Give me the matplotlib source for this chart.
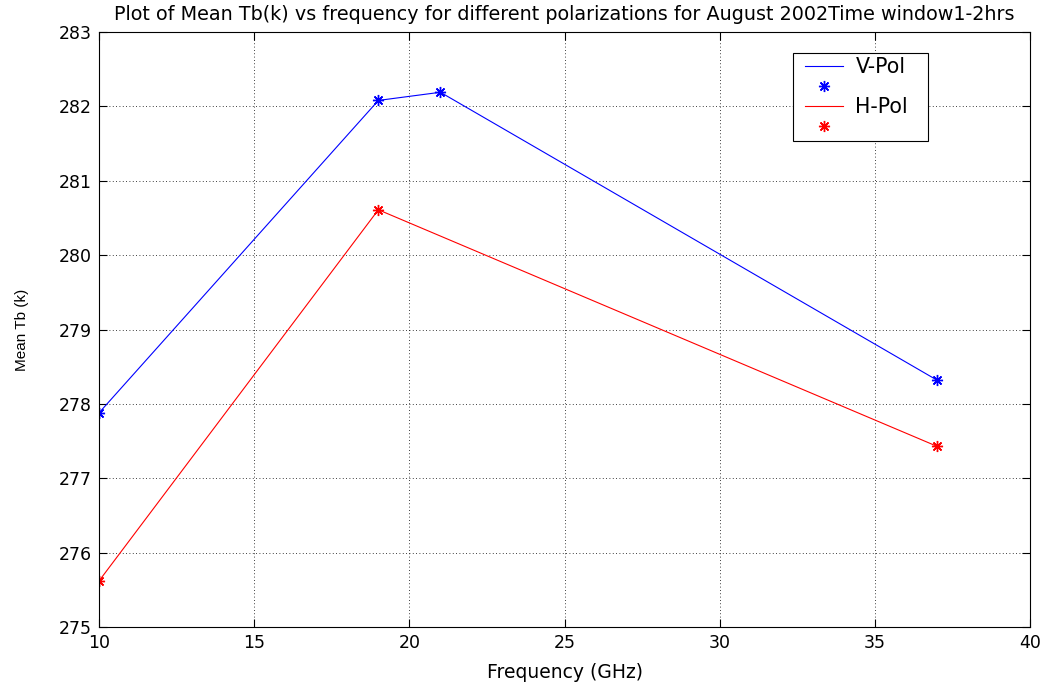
import matplotlib
matplotlib.use("Agg")
import matplotlib.pyplot as plt
from matplotlib.patches import Rectangle
from matplotlib.transforms import IdentityTransform

plt.rcParams['font.family'] = ['DejaVu Sans']

freq_v = [10, 19, 21, 37]
tb_v = [277.88, 282.08, 282.19, 278.32]
freq_h = [10, 19, 37]
tb_h = [275.62, 280.61, 277.43]

# MATLAB-style asterisk: plus and cross overlaid (8 arms)
star = (8, 2, 0)

fig = plt.figure(figsize=(10.47, 6.87), dpi=100)
ax = fig.add_axes([0.0946, 0.0873, 0.8892, 0.8661])

ax.plot(freq_v, tb_v, color='#0000ff', lw=0.8, label='V-Pol')
ax.plot(freq_v, tb_v, ls='none', marker=star, color='#0000ff', mec='#0000ff',
        ms=8, mew=1.0, label=' ')
ax.plot(freq_h, tb_h, color='#ff0000', lw=0.8, label='H-Pol')
ax.plot(freq_h, tb_h, ls='none', marker=star, color='#ff0000', mec='#ff0000',
        ms=8, mew=1.0, label=' ')

ax.set_xlim(10, 40)
ax.set_ylim(275, 283)
ax.set_xticks(range(10, 41, 5))
ax.set_yticks(range(275, 284))
ax.grid(True, color='black', ls=(0, (1, 3)), lw=0.6)
ax.tick_params(direction='in', length=6, labelsize=12.5, top=True, right=True, pad=5)
for s in ax.spines.values():
    s.set_linewidth(0.8)

ax.set_xlabel('Frequency (GHz)', fontsize=13.5, labelpad=8)
ax.set_ylabel('Mean Tb (k)', fontsize=11, family='Liberation Sans')
ax.yaxis.set_label_coords(-0.075, 0.5)
ax.set_title('Plot of Mean Tb(k) vs frequency for different polarizations for August 2002Time window1-2hrs',
             fontsize=13.75, pad=9)

# Legend entries without their own frame; a box with MATLAB-like padding goes around them
leg = ax.legend(loc='upper left', bbox_to_anchor=(0.7583, 0.958), borderaxespad=0,
                fontsize=14.8, frameon=False, handlelength=1.85, handletextpad=0.6,
                borderpad=0, labelspacing=0.0)
leg.set_zorder(6)
fig.canvas.draw()
bb = leg.get_window_extent()
frame = Rectangle((bb.x0 - 12, bb.y0 - 4), bb.width + 12 + 20, bb.height + 8,
                  transform=IdentityTransform(), facecolor='white', edgecolor='black',
                  lw=0.8, zorder=5.5, clip_on=False)
ax.add_artist(frame)

fig.savefig('out.png', dpi=100)
